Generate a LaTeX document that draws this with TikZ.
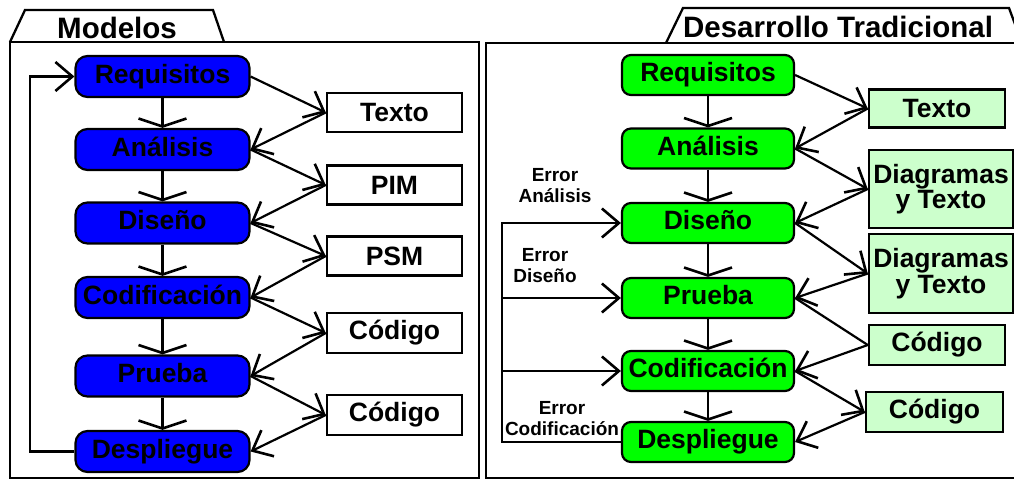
\documentclass[tikz,border=0pt]{standalone}
\usepackage{fontspec}
\setmainfont{Liberation Sans}
\usetikzlibrary{arrows.meta}
\definecolor{procblue}{RGB}{0,0,255}
\definecolor{procgreen}{RGB}{0,255,0}
\definecolor{docgreen}{RGB}{204,255,204}
\begin{document}
\begin{tikzpicture}[x=1pt,y=-1pt,
  every node/.style={font=\bfseries\fontsize{26.5}{25.5}\selectfont, inner sep=1pt},
  phase/.style={draw, line width=2.2pt, minimum width=174pt, minimum height=41pt,
    rounded corners=12pt, text height=18.5pt, text depth=5pt},
  bluephase/.style={phase, fill=procblue},
  greenphase/.style={phase, fill=procgreen, minimum width=172pt,
    minimum height=40pt, rounded corners=9pt},
  artifact/.style={draw, line width=2.5pt, minimum width=136pt,
    minimum height=39pt, align=center},
  whitedoc/.style={artifact, fill=white},
  greendoc/.style={artifact, fill=docgreen},
  flow/.style={line width=2.2pt, -{Straight Barb[length=17pt,width=29pt,line width=2.6pt]}},
  vflow/.style={line width=2.2pt, -{Straight Barb[length=8pt,width=48pt,line width=2.6pt]}},
  plain/.style={line width=2.2pt},
  frame/.style={line width=2.3pt, fill=white},
  paneltitle/.style={font=\bfseries\fontsize{29.5}{29.5}\selectfont},
  errlabel/.style={font=\bfseries\fontsize{19}{21}\selectfont, align=center}
]
\useasboundingbox (0,0) rectangle (1014,481);
\clip (0,0) rectangle (1014,481);

% panel frames with their tabs
\draw[frame] (10,42) -- (25,10) -- (213,10) -- (224,42);
\draw[frame] (10,42) rectangle (479,478);
\draw[frame] (666,43) -- (683,8) -- (1009,8) -- (1022,43);
\draw[frame] (486,43) rectangle (1030,478);
\node[paneltitle] (ltitle) at (117,27.5) {Modelos};
\node[paneltitle] (rtitle) at (838,26.5) {Desarrollo Tradicional};

% model-driven process
\node[bluephase] (lreq) at (162.5,76.5)  {Requisitos};
\node[bluephase] (lana) at (162.5,149.5) {Análisis};
\node[bluephase] (ldis) at (162.5,223)   {Diseño};
\node[bluephase] (lcdf) at (162.5,297.5) {Codificación};
\node[bluephase] (lpru) at (162.5,376)   {Prueba};
\node[bluephase] (ldes) at (162.5,451.5) {Despliegue};

\node[whitedoc, minimum width=135pt] (ltxt)  at (394.5,112.5) {Texto};
\node[whitedoc, minimum width=135pt] (lpim)  at (394.5,185)   {PIM};
\node[whitedoc, minimum width=135pt] (lpsm)  at (394.5,256)   {PSM};
\node[whitedoc, minimum width=135pt, minimum height=40pt] (lcod1) at (394.5,333) {Código};
\node[whitedoc, minimum width=135pt, minimum height=40pt] (lcod2) at (394.5,415) {Código};

\draw[vflow] (lreq) -- (lana);
\draw[vflow] (lana) -- (ldis);
\draw[vflow] (ldis) -- (lcdf);
\draw[vflow] (lcdf) -- (lpru);
\draw[vflow] (lpru) -- (ldes);

\draw[flow] (lreq.east) -- (ltxt.west);
\draw[flow] (ltxt.west) -- (lana.east);
\draw[flow] (lana.east) -- (lpim.west);
\draw[flow] (lpim.west) -- (ldis.east);
\draw[flow] (ldis.east) -- (lpsm.west);
\draw[flow] (lpsm.west) -- (lcdf.east);
\draw[flow] (lcdf.east) -- (lcod1.west);
\draw[flow] (lcod1.west) -- (lpru.east);
\draw[flow] (lpru.east) -- (lcod2.west);
\draw[flow] (lcod2.west) -- (ldes.east);

\coordinate (loopx) at (30,0);
\draw[flow] (ldes.west) -- (ldes.west -| loopx) |- (lreq.west);

% traditional process
\node[greenphase] (rreq) at (708,75)    {Requisitos};
\node[greenphase] (rana) at (708,148.5) {Análisis};
\node[greenphase] (rdis) at (708,223)   {Diseño};
\node[greenphase] (rpru) at (708,298)   {Prueba};
\node[greenphase] (rcdf) at (708,371)   {Codificación};
\node[greenphase] (rdes) at (708,442)   {Despliegue};

\node[greendoc, minimum height=38pt] (rtxt) at (937,108.5) {Texto};
\node[greendoc, minimum width=144pt, minimum height=78pt] (rdia1) at (941,189) {Diagramas\\y Texto};
\node[greendoc, minimum width=144pt, minimum height=79pt] (rdia2) at (941,273.5) {Diagramas\\y Texto};
\node[greendoc, minimum height=40pt] (rcod1) at (937,345) {Código};
\node[greendoc, minimum width=137pt, minimum height=40pt] (rcod2) at (934.5,412) {Código};

\draw[vflow] (rreq) -- (rana);
\draw[vflow] (rana) -- (rdis);
\draw[vflow] (rdis) -- (rpru);
\draw[vflow] (rpru) -- (rcdf);
\draw[vflow] (rcdf) -- (rdes);

\draw[flow] (rreq.east) -- (rtxt.west);
\draw[flow] (rtxt.west) -- (rana.east);
\draw[flow] (rana.east) -- (rdia1.west);
\draw[flow] (rdia1.west) -- (rdis.east);
\draw[flow] (rdis.east) -- (rdia2.west);
\draw[flow] (rdia2.west) -- (rpru.east);
\draw[plain] (rpru.east) -- (rcod1.west);
\draw[flow] (rcod1.west) -- (rcdf.east);
\draw[flow] (rcdf.east) -- (rcod2.west);
\draw[flow] (rcod2.west) -- (rdes.east);

% error feedback paths
\coordinate (errx) at (502,0);
\draw[flow] (rdes.west) -- (rdes.west -| errx) |- (rdis.west);
\draw[flow] (rpru.west -| errx) -- (rpru.west);
\draw[flow] (rcdf.west -| errx) -- (rcdf.west);

\node[errlabel] (eana) at (555,185.5) {Error\\Análisis};
\node[errlabel] (edis) at (545,266)   {Error\\Diseño};
\node[errlabel] (ecod) at (562,418.5) {Error\\Codificación};
\end{tikzpicture}
\end{document}
